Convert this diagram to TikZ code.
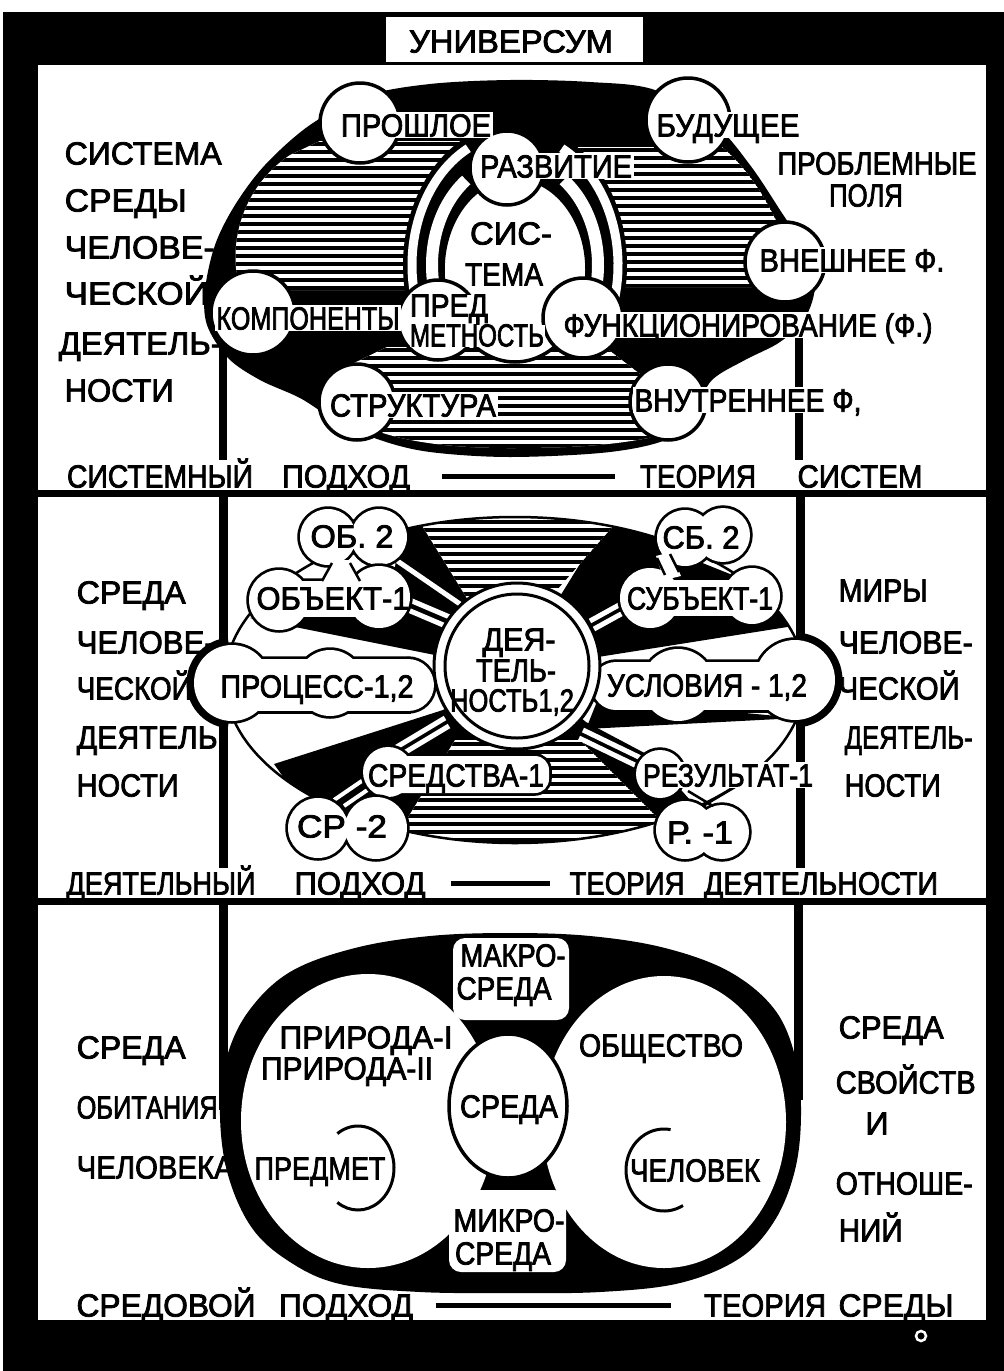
\documentclass[tikz,border=0pt]{standalone}
\usepackage{fontspec}
\usepackage{graphicx}
\setmainfont{Liberation Sans}[FakeBold=2.5]
\newcommand\tw[2]{\resizebox{#1pt}{\height}{#2}}
\newcommand\hatchfill[3]{%
  \begin{scope}
    \clip #1;
    \fill[white] #1;
    \foreach \hi in {0,...,#3}
      \draw[line width=3.6pt] (0,{#2+8*\hi}) -- (1004,{#2+8*\hi});
  \end{scope}}
\begin{document}
\begin{tikzpicture}[x=1pt,y=-1pt,
  txt/.style={inner sep=1.5pt, font=\fontsize{32}{34}\selectfont, text height=23pt, text depth=0pt},
  wtxt/.style={txt, fill=white},
  circ/.style={fill=white, draw=black, line width=3.5pt},
  bo/.style={draw=black, line width=5.5pt},
  vline/.style={line width=8.5pt},
  stripe/.style={white, line width=5pt},
  thin/.style={line width=2.5pt}]
\useasboundingbox (0,0) rectangle (1004,1371);
\fill[white] (0,0) rectangle (1004,1371);
\fill[black] (3,12) rectangle (1004,1371);
% panels
\fill[white] (38,65) rectangle (986,490);
\fill[white] (38,497) rectangle (986,898);
\fill[white] (38,905) rectangle (986,1320);
\fill[white] (386,17) rectangle (643,62);
\node[txt] (univ) at (511,41) {\tw{204}{УНИВЕРСУМ}};
\draw[white, line width=2.5pt] (921,1336) circle[radius=5];

%================ TOP PANEL: system approach ================
\fill[black] plot[smooth cycle, tension=0.55] coordinates {(365,96) (430,84) (510,80) (590,82) (655,90) (715,125) (750,165) (780,210) (805,250) (815,285) (805,318) (780,342) (745,360) (712,380) (695,410) (670,438) (610,452) (510,457) (430,452) (380,440) (335,420) (300,398) (260,380) (228,358) (207,325) (205,290) (215,245) (235,205) (265,165) (310,125)};
\hatchfill{(320,141) -- (470,141) -- (470,290) -- (240,290) .. controls (226,240) and (245,185) .. (290,155) -- cycle}{144}{19}
\hatchfill{(555,147) -- (722,147) .. controls (750,170) and (775,210) .. (790,255) -- (790,287) -- (560,287) -- cycle}{150}{17}
\hatchfill{(387,347) -- (605,347) -- (640,374) -- (695,374) -- (695,425) .. controls (640,445) and (580,448) .. (510,448) .. controls (440,448) and (390,440) .. (350,420) -- (350,365) -- cycle}{350}{13}
% rings around the system
\begin{scope}
  \clip (380,100) rectangle (650,296);
  \fill[black] (515,265) ellipse[x radius=112, y radius=142];
\end{scope}
\draw[white, line width=9pt] (515,265) ++(160:103 and 131) arc[start angle=160, end angle=243, x radius=103, y radius=131];
\draw[white, line width=9pt] (515,265) ++(297:103 and 131) arc[start angle=297, end angle=380, x radius=103, y radius=131];
\draw[white, line width=12pt] (515,265) ++(150:83 and 105) arc[start angle=150, end angle=234, x radius=83, y radius=105];
\draw[white, line width=12pt] (515,265) ++(306:83 and 105) arc[start angle=306, end angle=390, x radius=83, y radius=105];
\filldraw[fill=white, line width=3.5pt] (515,270) ellipse[x radius=72, y radius=92];
% vertical lines
\draw[vline] (223,343) -- (223,460);
\draw[vline] (799,335) -- (799,460);
% circles
\path[circ] (360,123) circle[radius=40];
\path[circ] (688,120) circle[radius=42];
\path[circ] (507,168) circle[radius=37];
\path[circ] (785,262) circle[radius=40];
\path[circ] (253,313) circle[radius=42];
\path[circ] (438,320) circle[radius=40];
\path[circ] (583,318) circle[radius=40];
\path[circ] (357,402) circle[radius=38];
\path[circ] (668,402) circle[radius=38];
% labels
\node[wtxt] (prosh) at (416,125) {\tw{150}{ПРОШЛОЕ}};
\node[wtxt] (bud) at (728,125) {\tw{143}{БУДУЩЕЕ}};
\node[wtxt] (razv) at (556,166) {\tw{152}{РАЗВИТИЕ}};
\node[wtxt] (vnesh) at (852,260) {\tw{185}{ВНЕШНЕЕ Ф.}};
\node[wtxt] (komp) at (308,318) {\tw{183}{КОМПОНЕНТЫ}};
\node[wtxt, inner sep=0.5pt, text height=21pt] (pred1) at (449,306) {\tw{78}{ПРЕД}};
\node[wtxt, inner sep=0.5pt, text height=21pt] (pred2) at (477,336) {\tw{134}{МЕТНОСТЬ}};
\node[wtxt] (func) at (748,325) {\tw{369}{ФУНКЦИОНИРОВАНИЕ (Ф.)}};
\node[wtxt] (strukt) at (413,405) {\tw{166}{СТРУКТУРА}};
\node[wtxt] (vnutr) at (748,400) {\tw{227}{ВНУТРЕННЕЕ Ф,}};
\node[txt] (sis) at (511,233) {\tw{82}{СИС-}};
\node[txt] (tema) at (504,274) {\tw{78}{ТЕМА}};
% side texts
\node[txt, anchor=west] (l1a) at (63,153) {\tw{157}{СИСТЕМА}};
\node[txt, anchor=west] (l1b) at (63,200) {\tw{122}{СРЕДЫ}};
\node[txt, anchor=west] (l1c) at (63,247) {\tw{150}{ЧЕЛОВЕ-}};
\node[txt, anchor=west] (l1d) at (63,293) {\tw{144}{ЧЕСКОЙ}};
\node[txt, anchor=west] (l1e) at (57,343) {\tw{163}{ДЕЯТЕЛЬ-}};
\node[txt, anchor=west] (l1f) at (63,390) {\tw{109}{НОСТИ}};
\node[txt] (r1a) at (877,163) {\tw{199}{ПРОБЛЕМНЫЕ}};
\node[txt] (r1b) at (866,195) {\tw{74}{ПОЛЯ}};
% bottom row
\node[txt] (sp) at (160,476) {\tw{186}{СИСТЕМНЫЙ}};
\node[txt] (pod1) at (346,476) {\tw{128}{ПОДХОД}};
\node[txt] (teo1) at (698,476) {\tw{116}{ТЕОРИЯ}};
\node[txt] (sist) at (860,476) {\tw{125}{СИСТЕМ}};
\draw[line width=5pt] ([xshift=30pt]pod1.east) -- ([xshift=-23pt]teo1.west);

%================ MIDDLE PANEL: activity approach ================
\draw[line width=9pt] (223,497) -- (223,868);
\draw[line width=9pt] (800,497) -- (800,868);
\begin{scope}
  \clip (515,680) ellipse[x radius=290, y radius=163];
  \fill (517,666) -- (425,512) -- (398,512) -- (395,570) -- (300,612) -- (250,618) -- (440,656) -- cycle;
  \fill (517,666) -- (612,512) -- (645,512) -- (665,548) -- (740,578) -- (780,612) -- (800,625) -- (598,657) -- cycle;
  \fill (517,666) -- (443,710) -- (274,764) -- (296,795) -- (400,830) -- (470,760) -- cycle;
  \fill (517,666) -- (586,722) -- (652,757) -- (690,800) -- (660,835) -- (560,760) -- cycle;
  \fill (598,699) -- (798,718) -- (586,729) -- cycle;
  \hatchfill{(400,490) -- (645,490) -- (548,600) -- (468,600) -- cycle}{514}{11}
  \hatchfill{(455,740) -- (580,740) -- (720,880) -- (370,880) -- cycle}{744}{13}
\end{scope}
% spokes
\draw[stripe] (405,598) -- (452,618);
\draw[stripe] (401,607) -- (448,627);
\draw[stripe] (396,560) -- (460,604);
\draw[stripe] (628,600) -- (590,621);
\draw[stripe] (632,608) -- (594,629);
\draw[stripe] (445,718) -- (395,748);
\draw[stripe] (449,726) -- (399,756);
\draw[stripe] (583,730) -- (645,760);
\draw[stripe] (579,738) -- (641,768);
\draw[white, line width=4pt] (334,800) -- (372,774);
\draw[white, line width=4pt] (344,806) -- (382,780);
\draw[thin] (515,680) ellipse[x radius=290, y radius=163];
% thick bulges on the side bubbles
\draw[line width=9pt] (232,683) ++(95:41) arc[start angle=95, end angle=265, radius=41];
\draw[line width=9pt] (795,680) ++(-85:43) arc[start angle=-85, end angle=85, radius=43];
% bubbles
\draw[bo] (328,537) circle[radius=28] (379,537) circle[radius=28];
\fill[white] (328,537) circle[radius=28] (379,537) circle[radius=28];
\draw[bo] (279,600) circle[radius=30] (379,597) circle[radius=31] (262,581) rectangle (400,617);
\fill[white] (279,600) circle[radius=30] (379,597) circle[radius=31];
\fill[white] (262,581) rectangle (400,617);
\draw[bo] (232,683) circle[radius=38] (330,683) circle[radius=33] (408,685) circle[radius=26] (232,659) rectangle (408,711);
\fill[white] (232,683) circle[radius=38] (330,683) circle[radius=33] (408,685) circle[radius=26];
\fill[white] (232,659) rectangle (408,711);
\draw[bo] (388,772) circle[radius=25];
\draw[bo, rounded corners=14pt] (366,756) rectangle (549,793);
\fill[white] (388,772) circle[radius=25];
\fill[white, rounded corners=14pt] (366,756) rectangle (549,793);
\draw[bo] (318,828) circle[radius=30] (376,828) circle[radius=31];
\fill[white] (318,828) circle[radius=30] (376,828) circle[radius=31];
\draw[bo] (685,538) circle[radius=28] (723,535) circle[radius=27];
\fill[white] (685,538) circle[radius=28] (723,535) circle[radius=27];
\draw[bo] (650,598) circle[radius=30] (752,596) circle[radius=28] (636,580) rectangle (770,616);
\fill[white] (650,598) circle[radius=30] (752,596) circle[radius=28];
\fill[white] (636,580) rectangle (770,616);
\draw[bo] (795,680) circle[radius=40] (678,685) circle[radius=36] (616,686) circle[radius=24] (616,662) rectangle (795,710);
\fill[white] (795,680) circle[radius=40] (678,685) circle[radius=36] (616,686) circle[radius=24];
\fill[white] (616,662) rectangle (795,710);
\draw[bo] (660,774) circle[radius=24];
\fill[white] (660,774) circle[radius=24];
\draw[bo] (685,830) circle[radius=29] (722,832) circle[radius=27];
\fill[white] (685,830) circle[radius=29] (722,832) circle[radius=27];
% small connectors between bubbles
\fill[white] (322,583) -- (333,560) -- (350,560) -- (360,583) -- cycle;
\draw[thin] (322,581) -- (332,563);
\draw[thin] (350,563) -- (360,581);
\fill[white] (656,556) -- (671,552) -- (681,576) -- (664,580) -- cycle;
\draw[thin] (657,558) -- (665,575);
\draw[thin] (670,554) -- (679,572);
\draw[thin] (688,791) -- (713,806);
\draw[thin] (735,787) -- (703,806);
% centre
\filldraw[fill=white, line width=3pt] (517,666) circle[radius=83];
\draw[line width=3pt] (517,666) circle[radius=72];
\node[txt] (dea1) at (519,639) {\tw{73}{ДЕЯ-}};
\node[txt] (dea2) at (516,670) {\tw{80}{ТЕЛЬ-}};
\node[txt] (dea3) at (512,700) {\tw{124}{НОСТЬ1,2}};
% bubble labels
\node[txt] (ob2) at (352,536) {\tw{83}{ОБ. 2}};
\node[txt] (ob1) at (333,598) {\tw{153}{ОБЪЕКТ-1}};
\node[txt] (proc) at (317,686) {\tw{193}{ПРОЦЕСС-1,2}};
\node[txt] (sred) at (456,775) {\tw{176}{СРЕДСТВА-1}};
\node[txt] (sr2) at (342,826) {\tw{90}{СР -2}};
\node[txt] (sb2) at (701,537) {\tw{77}{СБ. 2}};
\node[txt] (sb1) at (700,598) {\tw{146}{СУБЪЕКТ-1}};
\node[txt] (usl) at (707,685) {\tw{200}{УСЛОВИЯ - 1,2}};
\node[wtxt] (rez) at (728,775) {\tw{170}{РЕЗУЛЬТАТ-1}};
\node[txt] (r1) at (700,832) {\tw{66}{Р. -1}};
% side texts
\node[txt, anchor=west] (l2a) at (75,592) {\tw{109}{СРЕДА}};
\node[txt, anchor=west] (l2b) at (75,642) {\tw{138}{ЧЕЛОВЕ-}};
\node[txt, anchor=west] (l2c) at (75,688) {\tw{115}{ЧЕСКОЙ}};
\node[txt, anchor=west] (l2d) at (75,737) {\tw{141}{ДЕЯТЕЛЬ}};
\node[txt, anchor=west] (l2e) at (75,785) {\tw{102}{НОСТИ}};
\node[txt, anchor=west] (r2a) at (837,590) {\tw{89}{МИРЫ}};
\node[txt, anchor=west] (r2b) at (837,642) {\tw{134}{ЧЕЛОВЕ-}};
\node[txt, anchor=west] (r2c) at (837,688) {\tw{121}{ЧЕСКОЙ}};
\node[txt, anchor=west] (r2d) at (843,737) {\tw{128}{ДЕЯТЕЛЬ-}};
\node[txt, anchor=west] (r2e) at (843,785) {\tw{96}{НОСТИ}};
% bottom row
\node[txt] (dp) at (161,883) {\tw{189}{ДЕЯТЕЛЬНЫЙ}};
\node[txt] (pod2) at (360,883) {\tw{131}{ПОДХОД}};
\node[txt] (teo2) at (627,883) {\tw{115}{ТЕОРИЯ}};
\node[txt] (deat) at (821,883) {\tw{234}{ДЕЯТЕЛЬНОСТИ}};
\draw[line width=5pt] ([xshift=24pt]pod2.east) -- ([xshift=-18pt]teo2.west);

%================ BOTTOM PANEL: environment approach ================
\draw[line width=9pt] (223,905) -- (223,1110);
\draw[line width=9pt] (798,905) -- (798,1100);
\fill plot[smooth cycle, tension=0.6] coordinates {(510,933) (590,936) (665,948) (730,972) (775,1010) (796,1060) (801,1115) (795,1170) (775,1220) (740,1258) (680,1283) (600,1292) (510,1293) (420,1292) (340,1284) (290,1262) (252,1228) (228,1175) (220,1115) (226,1060) (248,1012) (290,972) (355,948) (430,936)};
\fill[white] (368,1121) ellipse[x radius=127, y radius=147];
\fill[white] (664,1122) ellipse[x radius=122, y radius=146];
\fill[white, rounded corners=12pt] (453,938) rectangle (569,1020);
\fill[white, rounded corners=12pt] (449,1190) rectangle (566,1272);
\filldraw[fill=white, line width=3.5pt] (508,1106) ellipse[x radius=59, y radius=72];
\draw[line width=3pt] (358,1168) ++(-125:36 and 42) arc[start angle=-125, end angle=125, x radius=36, y radius=42];
\draw[line width=3pt] (664,1170) ++(60:38 and 41) arc[start angle=60, end angle=280, x radius=38, y radius=41];
\node[txt] (makro1) at (513,955) {\tw{105}{МАКРО-}};
\node[txt] (makro2) at (504,988) {\tw{95}{СРЕДА}};
\node[txt] (mikro1) at (509,1220) {\tw{111}{МИКРО-}};
\node[txt] (mikro2) at (503,1253) {\tw{96}{СРЕДА}};
\node[txt] (prir1) at (366,1037) {\tw{173}{ПРИРОДА-I}};
\node[txt] (prir2) at (347,1068) {\tw{172}{ПРИРОДА-II}};
\node[txt] (obsh) at (661,1045) {\tw{164}{ОБЩЕСТВО}};
\node[txt] (sreda) at (509,1106) {\tw{98}{СРЕДА}};
\node[txt] (predm) at (320,1168) {\tw{131}{ПРЕДМЕТ}};
\node[txt] (chel) at (695,1170) {\tw{130}{ЧЕЛОВЕК}};
% side texts
\node[txt, anchor=west] (l3a) at (75,1047) {\tw{109}{СРЕДА}};
\node[txt, anchor=west] (l3b) at (75,1107) {\tw{141}{ОБИТАНИЯ}};
\node[txt, anchor=west] (l3c) at (75,1167) {\tw{157}{ЧЕЛОВЕКА}};
\node[txt, anchor=west] (r3a) at (837,1027) {\tw{105}{СРЕДА}};
\node[txt, anchor=west] (r3b) at (834,1082) {\tw{140}{СВОЙСТВ}};
\node[txt] (r3c) at (877,1123) {И};
\node[txt, anchor=west] (r3d) at (834,1183) {\tw{137}{ОТНОШЕ-}};
\node[txt, anchor=west] (r3e) at (837,1230) {\tw{64}{НИЙ}};
% bottom row
\node[txt] (srp) at (166,1305) {\tw{179}{СРЕДОВОЙ}};
\node[txt] (pod3) at (346,1305) {\tw{134}{ПОДХОД}};
\node[txt] (teo3) at (765,1305) {\tw{122}{ТЕОРИЯ}};
\node[txt] (sredy) at (896,1305) {\tw{115}{СРЕДЫ}};
\draw[line width=5pt] ([xshift=21pt]pod3.east) -- ([xshift=-31pt]teo3.west);
\end{tikzpicture}
\end{document}
